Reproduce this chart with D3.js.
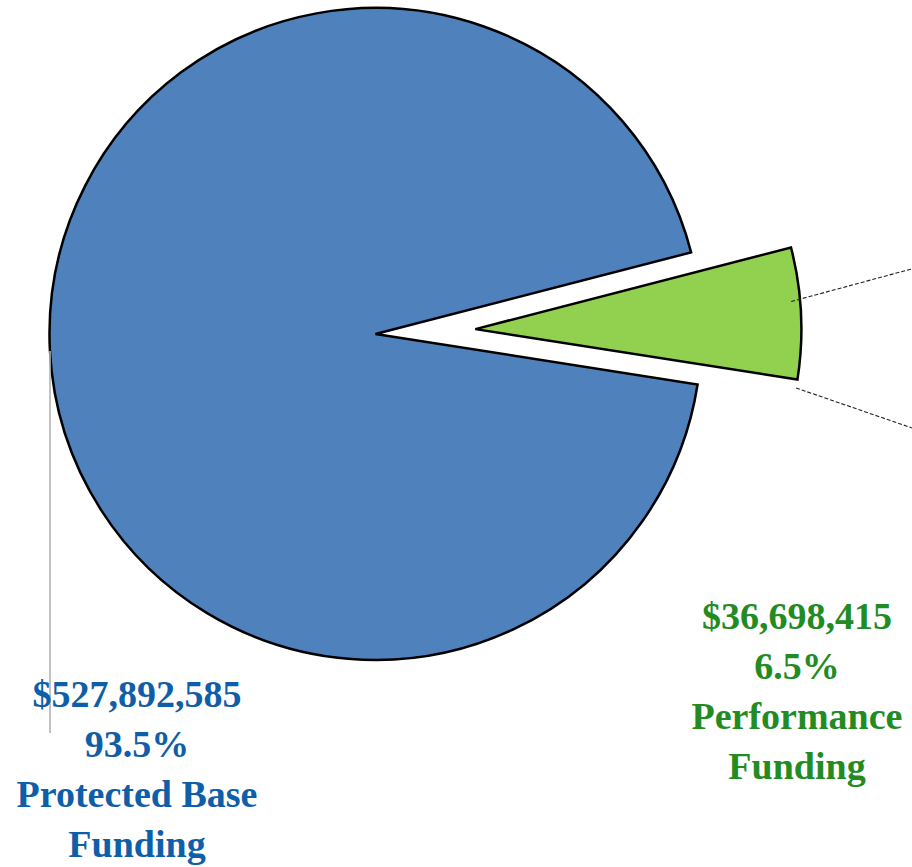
<!DOCTYPE html>
<html lang="en">
<head>
    <meta charset="UTF-8">
    <title>Funding split</title>
    <style>
        body{ margin:0; background:#fff; }
        svg{ display:block; }
        .lbl{ font-family:"Liberation Serif", "Times New Roman", serif; font-weight:bold; font-size:38px; }
    </style>
    <script src="https://cdn.jsdelivr.net/npm/d3@7"></script>
</head>
<body>
<script>
    const width = 912
    const height = 867

    // data
    const categories = ["Protected Base Funding", "Performance Funding"]
    const amounts = [527892585, 36698415]
    const shareLabels = ["93.5%", "6.5%"]
    const amountLabels = ["$527,892,585", "$36,698,415"]
    const nameLines = [["Protected Base", "Funding"], ["Performance", "Funding"]]
    const fills = ["#4f81bd", "#92d050"]
    const textColors = ["#0f5ea8", "#228b22"]

    const cx = 375.5, cy = 334, r = 326
    const explode = 100
    const deg = Math.PI / 180
    const start = 98.9 * deg

    let svg = d3.select("body").append("svg")
        .attr("width", width)
        .attr("height", height)
        .attr("viewBox", `0 0 ${width} ${height}`)

    const pie = d3.pie().sort(null).value(d => d)
        .startAngle(start).endAngle(start + 2 * Math.PI)
    const arcs = pie(amounts)

    const arc = d3.arc().innerRadius(0).outerRadius(r)

    const offset = (d, i) => {
        if (i === 0) return [0, 0]
        const a = (d.startAngle + d.endAngle) / 2
        return [explode * Math.sin(a), -explode * Math.cos(a)]
    }
    // polar point from a slice's own centre (d3 angle convention)
    const polar = (d, i, rad, ang) => {
        const o = offset(d, i)
        return [cx + o[0] + rad * Math.sin(ang), cy + o[1] - rad * Math.cos(ang)]
    }

    let g = svg.append("g")

    g.selectAll("path.slice")
        .data(arcs)
        .enter()
        .append("path")
        .attr("class", "slice")
        .attr("transform", (d, i) => {
            const o = offset(d, i)
            return `translate(${cx + o[0]},${cy + o[1]})`
        })
        .attr("d", arc)
        .attr("fill", (d, i) => fills[i])
        .attr("stroke", "#000")
        .attr("stroke-width", 2.5)
        .attr("stroke-linejoin", "miter")

    // leader lines
    const blue = arcs[0], green = arcs[1]
    const bStart = polar(blue, 0, r, 267 * deg)
    g.append("line")
        .attr("x1", cx - r + 0.5).attr("y1", bStart[1])
        .attr("x2", cx - r + 0.5).attr("y2", 733)
        .attr("stroke", "#b3b3b3").attr("stroke-width", 1.6)

    const gMid = (green.startAngle + green.endAngle) / 2
    const p1 = polar(green, 1, 317, gMid - 2.2 * deg)
    const p2 = polar(green, 1, 326, green.endAngle + 1.5 * deg)
    const leaders = [[p1, [width + 10, p1[1] + (width + 10 - p1[0]) * -0.27]],
                     [p2, [width + 10, p2[1] + (width + 10 - p2[0]) * 0.345]]]
    g.selectAll("line.lead")
        .data(leaders)
        .enter()
        .append("line")
        .attr("class", "lead")
        .attr("x1", d => d[0][0]).attr("y1", d => d[0][1])
        .attr("x2", d => d[1][0]).attr("y2", d => d[1][1])
        .attr("stroke", "#222")
        .attr("stroke-width", 1.1)
        .attr("stroke-dasharray", "4,2")

    // labels
    const labelPos = [[137, 707], [797, 629]]
    const lineGap = 50
    categories.forEach((c, i) => {
        const lines = [amountLabels[i], shareLabels[i]].concat(nameLines[i])
        let t = svg.append("text")
            .attr("class", "lbl")
            .attr("text-anchor", "middle")
            .attr("fill", textColors[i])
        lines.forEach((s, k) => {
            t.append("tspan")
                .attr("x", labelPos[i][0])
                .attr("y", labelPos[i][1] + k * lineGap)
                .text(s)
        })
    })
</script>
</body>
</html>
